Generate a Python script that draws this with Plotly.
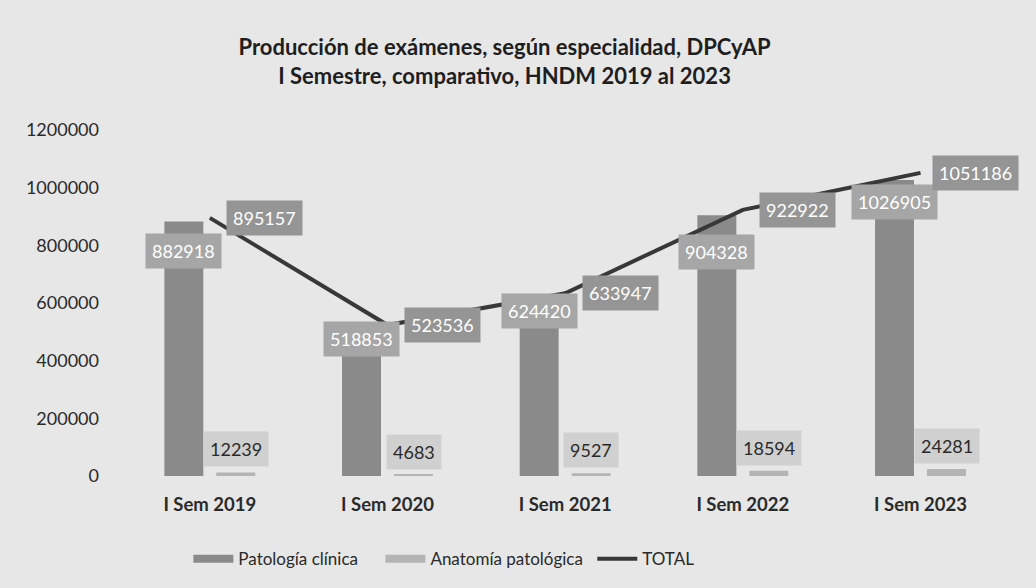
import plotly.graph_objects as go

categories = ["I Sem 2019", "I Sem 2020", "I Sem 2021", "I Sem 2022", "I Sem 2023"]
patologia_clinica = [882918, 518853, 624420, 904328, 1026905]
anatomia_patologica = [12239, 4683, 9527, 18594, 24281]
total = [895157, 523536, 633947, 922922, 1051186]
y_ticks = [0, 200000, 400000, 600000, 800000, 1000000, 1200000]
series_names = ["Patología clínica", "Anatomía patológica", "TOTAL"]

# label offsets (pixels), styling only
pc_dy = [-30, -13, -15, -37, -22]

FONT = "Lato"
BG = "#e7e7e7"
C_PC = "#8a8a8a"
C_AP = "#b4b4b4"
C_TOT = "#383838"

fig = go.Figure()
fig.add_trace(go.Bar(x=categories, y=patologia_clinica, name=series_names[0], showlegend=False,
                     marker=dict(color=C_PC, line=dict(width=0))))
fig.add_trace(go.Bar(x=categories, y=anatomia_patologica, name=series_names[1], showlegend=False,
                     marker=dict(color=C_AP, line=dict(width=0))))
fig.add_trace(go.Scatter(x=categories, y=total, name=series_names[2], mode="lines", showlegend=False,
                         line=dict(color=C_TOT, width=4)))

# legend entries (wide swatches like the original); trailing spaces widen the gaps
pads = [4, 1, 0]
for name, col, w, p in zip(series_names, [C_PC, C_AP, C_TOT], [8, 8, 4], pads):
    fig.add_trace(go.Scatter(x=[None], y=[None], mode="lines", name=name + "\u00a0" * p,
                             line=dict(color=col, width=w), showlegend=True))

ann = []
for i, c in enumerate(categories):
    ann.append(dict(x=c, y=patologia_clinica[i], xref="x", yref="y", text=f"{patologia_clinica[i]}",
                    showarrow=False, xshift=-26, yshift=pc_dy[i], bgcolor="#a6a6a6",
                    borderpad=6, font=dict(family=FONT, size=18, color="white")))
    ann.append(dict(x=c, y=anatomia_patologica[i], xref="x", yref="y", text=f"{anatomia_patologica[i]}",
                    showarrow=False, xshift=26, yshift=23, bgcolor="#d0d0d0",
                    borderpad=6, font=dict(family=FONT, size=18, color="#2a2a2a")))
    ann.append(dict(x=c, y=total[i], xref="x", yref="y", text=f"{total[i]}",
                    showarrow=False, xshift=55, yshift=0, bgcolor="#959595",
                    borderpad=6, font=dict(family=FONT, size=18, color="white")))

fig.update_layout(
    width=1036, height=588,
    paper_bgcolor=BG, plot_bgcolor=BG,
    margin=dict(l=121, r=17, t=130, b=111),
    barmode="group", bargap=0.415, bargroupgap=0.25,
    title=dict(text="Producción de exámenes, según especialidad, DPCyAP<br>I Semestre, comparativo, HNDM 2019 al 2023",
               x=0.487, xanchor="center", y=0.906, yanchor="middle",
               font=dict(family=FONT, size=22, color="#1e1e1e", weight="bold")),
    font=dict(family=FONT, color="#2a2a2a"),
    xaxis=dict(showgrid=False, showline=False, ticks="", zeroline=False,
               tickfont=dict(family=FONT, size=18.5, color="#2a2a2a", weight="bold"),
               ticklabelstandoff=15),
    yaxis=dict(range=[0, 1200000], tickvals=y_ticks, ticktext=[str(v) for v in y_ticks],
               showgrid=False, zeroline=False, showline=False, ticks="",
               tickfont=dict(family=FONT, size=18, color="#2a2a2a"), ticklabelstandoff=21),
    legend=dict(orientation="h", x=0.075, xanchor="left", y=-0.185, yanchor="top",
                itemwidth=40, tracegroupgap=0,
                font=dict(family=FONT, size=17, color="#2a2a2a"), bgcolor="rgba(0,0,0,0)"),
    annotations=ann,
)

fig.write_html("out.html", config={"displayModeBar": False},
               post_script="document.body.style.margin='0';document.body.style.background='#e7e7e7';")
